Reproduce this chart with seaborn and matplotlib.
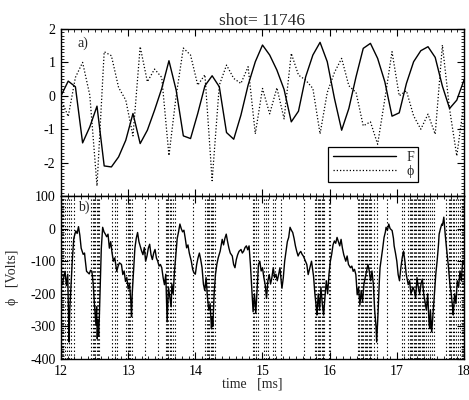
import numpy as np
import pandas as pd
import matplotlib
matplotlib.use("Agg")
import matplotlib.pyplot as plt
from matplotlib.ticker import MultipleLocator
import seaborn as sns

# ---------------- data ----------------
title = "shot= 11746"
t_top = np.linspace(12.0, 18.0, 57)
F_vals = [0.00, 0.44, 0.27, -1.41, -0.93, -0.31, -2.10, -2.13, -1.83, -1.33,
          -0.53, -1.43, -1.03, -0.43, 0.22, 1.05, 0.17, -1.20, -1.28, -0.53,
          0.30, 0.60, 0.27, -1.10, -1.30, -0.58, 0.32, 1.02, 1.52, 1.22,
          0.77, 0.19, -0.78, -0.46, 0.57, 1.22, 1.60, 1.02, -0.08, -1.03,
          -0.38, 0.57, 1.42, 1.57, 1.12, 0.42, -0.61, -0.51, 0.37, 1.02,
          1.35, 1.47, 1.15, 0.29, -0.38, -0.13, 0.47]
phi_norm = [-0.10, -0.62, 0.55, 1.00, 0.02, -2.70, 1.32, 1.20, 0.25, -0.13,
            -1.20, 1.47, 0.42, 0.80, 0.55, -1.79, 0.00, 1.43, 1.22, 0.32,
            0.63, -2.54, 0.32, 0.92, 0.52, 0.37, 0.87, -1.14, 0.22, -0.54,
            0.24, -0.69, 1.27, 0.62, 0.47, 0.22, -1.14, 0.10, 0.70, 1.12,
            0.30, 0.10, -0.90, -0.78, -1.45, -0.10, 1.32, 0.00, 0.15, -0.60,
            -1.00, -0.55, -1.15, 1.52, -0.40, -1.80, -0.20]

phi_t = [12.00, 12.02, 12.04, 12.06, 12.08, 12.10, 12.12, 12.13, 12.15, 12.17,
         12.19, 12.22, 12.24, 12.26, 12.28, 12.30, 12.33, 12.35, 12.36, 12.38,
         12.40, 12.42, 12.44, 12.46, 12.48, 12.50, 12.52, 12.53, 12.54, 12.55,
         12.56, 12.57, 12.58, 12.60, 12.62, 12.64, 12.66, 12.68, 12.70, 12.72,
         12.74, 12.76, 12.78, 12.80, 12.83, 12.85, 12.87, 12.90, 12.92, 12.94,
         12.96, 12.98, 13.00, 13.02, 13.04, 13.05, 13.06, 13.08, 13.10, 13.12,
         13.14, 13.16, 13.18, 13.20, 13.22, 13.24, 13.26, 13.28, 13.30, 13.32,
         13.34, 13.36, 13.38, 13.40, 13.42, 13.44, 13.46, 13.48, 13.50, 13.52,
         13.54, 13.56, 13.58, 13.59, 13.60, 13.62, 13.64, 13.65, 13.67, 13.69,
         13.71, 13.73, 13.75, 13.77, 13.79, 13.81, 13.83, 13.85, 13.87, 13.89,
         13.91, 13.94, 13.96, 13.98, 14.00, 14.02, 14.04, 14.06, 14.08, 14.10,
         14.12, 14.14, 14.16, 14.18, 14.20, 14.22, 14.24, 14.25, 14.26, 14.28,
         14.30, 14.32, 14.34, 14.37, 14.40, 14.42, 14.44, 14.46, 14.48, 14.50,
         14.52, 14.55, 14.57, 14.59, 14.61, 14.63, 14.65, 14.68, 14.70, 14.72,
         14.74, 14.76, 14.78, 14.80, 14.82, 14.84, 14.86, 14.88, 14.90, 14.92,
         14.94, 14.96, 14.98, 15.00, 15.02, 15.04, 15.06, 15.08, 15.10, 15.12,
         15.14, 15.16, 15.18, 15.20, 15.22, 15.24, 15.26, 15.28, 15.29, 15.31,
         15.33, 15.35, 15.37, 15.39, 15.41, 15.43, 15.45, 15.47, 15.49, 15.51,
         15.53, 15.55, 15.57, 15.59, 15.61, 15.63, 15.66, 15.68, 15.70, 15.73,
         15.76, 15.78, 15.80, 15.81, 15.83, 15.85, 15.87, 15.89, 15.91, 15.93,
         15.95, 15.97, 15.99, 16.01, 16.03, 16.05, 16.07, 16.09, 16.11, 16.13,
         16.15, 16.17, 16.19, 16.21, 16.24, 16.26, 16.28, 16.31, 16.33, 16.35,
         16.37, 16.39, 16.41, 16.43, 16.45, 16.47, 16.49, 16.51, 16.53, 16.55,
         16.57, 16.59, 16.61, 16.63, 16.65, 16.67, 16.69, 16.70, 16.72, 16.74,
         16.75, 16.77, 16.79, 16.81, 16.83, 16.84, 16.86, 16.88, 16.90, 16.93,
         16.95, 16.96, 16.98, 17.00, 17.02, 17.04, 17.06, 17.08, 17.10, 17.12,
         17.14, 17.17, 17.19, 17.21, 17.24, 17.26, 17.28, 17.30, 17.32, 17.34,
         17.36, 17.38, 17.40, 17.42, 17.44, 17.46, 17.48, 17.49, 17.50, 17.52,
         17.54, 17.56, 17.58, 17.60, 17.62, 17.63, 17.65, 17.67, 17.68, 17.70,
         17.72, 17.74, 17.77, 17.79, 17.81, 17.83, 17.84, 17.86, 17.88, 17.90,
         17.92, 17.94, 17.96, 17.98, 18.00]
phi_volts = [-160, -172, -150, -131, -175, -140, -348, -250, -172, -90,
             -30, -7, -15, 6, -20, -60, -79, -75, -95, -131,
             -135, -139, -128, -131, -172, -240, -296, -240, -338, -280,
             -330, -275, -200, -60, 4, -10, -17, -25, -17, -60,
             -40, -75, -100, -90, -131, -115, -105, -110, -141, -130,
             -162, -150, -185, -170, -224, -270, -200, -130, -60, -30,
             -12, -40, -55, -69, -80, -58, -100, -84, -60, -48,
             -80, -95, -75, -64, -90, -100, -115, -110, -120, -150,
             -172, -140, -286, -230, -180, -210, -240, -170, -200, -130,
             -80, -30, -10, 14, 0, -10, -5, -30, -59, -50,
             -75, -100, -125, -136, -140, -110, -90, -75, -95, -120,
             -170, -190, -150, -210, -250, -230, -307, -270, -300, -200,
             -140, -110, -90, -69, -33, -50, -30, -17, -40, -60,
             -75, -84, -110, -120, -95, -80, -70, -64, -75, -69,
             -58, -53, -65, -53, -110, -180, -255, -200, -260, -184,
             -110, -100, -130, -120, -150, -172, -214, -160, -141, -170,
             -150, -120, -150, -140, -160, -141, -120, -165, -183, -150,
             -100, -69, -40, -27, 4, -5, -12, -30, -53, -70,
             -84, -75, -70, -79, -85, -95, -110, -141, -125, -100,
             -146, -200, -240, -265, -200, -250, -180, -230, -265, -210,
             -160, -200, -140, -100, -79, -50, -38, -45, -27, -40,
             -53, -33, -60, -80, -100, -84, -110, -120, -115, -131,
             -125, -141, -203, -180, -234, -190, -224, -170, -150, -131,
             -110, -130, -160, -130, -170, -250, -300, -348, -260, -160,
             -120, -90, -60, -27, -10, 4, -5, 14, 0, -6,
             -30, -53, -75, -100, -141, -160, -120, -90, -69, -100,
             -140, -172, -160, -200, -180, -190, -214, -150, -180, -200,
             -170, -155, -200, -224, -250, -200, -290, -307, -250, -317,
             -260, -200, -140, -100, -50, -17, 0, 14, 10, 35,
             -17, -60, -120, -170, -200, -240, -265, -200, -230, -160,
             -180, -130, -160, -100, -110]

event_times = [12.01, 12.03, 12.06, 12.09, 12.12, 12.15, 12.19,
               12.45, 12.47, 12.49, 12.51, 12.53, 12.55, 12.57,
               12.76, 12.80, 12.83,
               12.97, 12.99, 13.01, 13.03, 13.05,
               13.25, 13.45,
               13.56, 13.58, 13.60, 13.62, 13.64, 13.66, 13.69,
               13.97,
               14.15, 14.17, 14.19, 14.21, 14.23, 14.25, 14.27, 14.30,
               14.86, 14.88, 14.91, 14.93,
               15.02, 15.05, 15.08, 15.15, 15.18, 15.28, 15.62,
               15.78, 15.80, 15.82, 15.84, 15.86, 15.88, 15.90, 15.92,
               15.99, 16.01,
               16.42, 16.44, 16.46, 16.48, 16.50, 16.52, 16.54, 16.56, 16.58,
               16.60, 16.62, 16.66, 16.70,
               16.86, 17.08, 17.11,
               17.17, 17.19, 17.21, 17.23, 17.25, 17.27, 17.29, 17.31, 17.33,
               17.35, 17.37, 17.39, 17.41, 17.44, 17.47, 17.50, 17.53, 17.55,
               17.73, 17.77, 17.79, 17.81, 17.83, 17.85, 17.88, 17.91, 17.94,
               17.97, 17.99]

top_df = pd.DataFrame({"t": t_top, "F": F_vals, "phi": phi_norm})
bot_df = pd.DataFrame({"t": phi_t, "V": phi_volts})

# ---------------- style ----------------
sns.set_style("ticks")
plt.rcParams["font.family"] = ["Liberation Serif", "DejaVu Serif"]
plt.rcParams["axes.unicode_minus"] = False

fig = plt.figure(figsize=(4.69, 4.00), dpi=100)
L, W = 0.1301, 0.8592
ax1 = fig.add_axes([L, 0.51, W, 0.4175])
ax2 = fig.add_axes([L, 0.1025, W, 0.4075])

# top panel
sns.lineplot(data=top_df, x="t", y="F", ax=ax1, color="black", lw=1.0,
             sort=False, estimator=None, label="F")
sns.lineplot(data=top_df, x="t", y="phi", ax=ax1, color="black", lw=0.9,
             sort=False, estimator=None, label="ϕ", linestyle=(0, (1, 1.6)))
ax1.set_xlim(12, 18)
ax1.set_ylim(-3, 2)
ax1.set_yticks([-2, -1, 0, 1, 2])
ax1.yaxis.set_minor_locator(MultipleLocator(0.1))
ax1.xaxis.set_major_locator(MultipleLocator(1))
ax1.xaxis.set_minor_locator(MultipleLocator(0.1))
ax1.set_xticklabels([])
ax1.set_xlabel("")
ax1.set_ylabel("")
ax1.set_title(title, fontsize=12.5, pad=3)
ax1.text(0.04, 0.955, "a)", transform=ax1.transAxes, ha="left", va="top", fontsize=10)
leg = ax1.legend(loc="lower right", bbox_to_anchor=(0.886, 0.084), frameon=True,
                 fancybox=False, edgecolor="black", framealpha=1, fontsize=10,
                 handlelength=4.6, handletextpad=0.7, borderpad=0.3,
                 labelspacing=0.05, borderaxespad=0)
leg.get_frame().set_linewidth(0.9)

# bottom panel
ax2.vlines(event_times, -400, 100, colors="black", linewidth=0.8,
           linestyles=(0, (1.2, 2.2)))
sns.lineplot(data=bot_df, x="t", y="V", ax=ax2, color="black", lw=1.0,
             sort=False, estimator=None)
ax2.set_xlim(12, 18)
ax2.set_ylim(-400, 100)
ax2.set_yticks([-400, -300, -200, -100, 0, 100])
ax2.yaxis.set_minor_locator(MultipleLocator(10))
ax2.xaxis.set_major_locator(MultipleLocator(1))
ax2.xaxis.set_minor_locator(MultipleLocator(0.1))
ax2.text(0.042, 0.975, "b)", transform=ax2.transAxes, ha="left", va="top", fontsize=10)
ax2.set_xlabel("time   [ms]", fontsize=10)
ax2.set_ylabel("ϕ   [Volts]", fontsize=10)
ax2.xaxis.set_label_coords(0.474, -0.115)
ax2.yaxis.set_label_coords(-0.105, 0.5)

for ax in (ax1, ax2):
    for s in ax.spines.values():
        s.set_linewidth(1.0)
        s.set_color("black")
    ax.tick_params(which="both", direction="in", top=True, right=True,
                   colors="black", labelsize=10, pad=4)
    ax.tick_params(which="major", length=5, width=0.8)
    ax.tick_params(which="minor", length=2.3, width=0.6)

fig.savefig("out.png", dpi=100)
